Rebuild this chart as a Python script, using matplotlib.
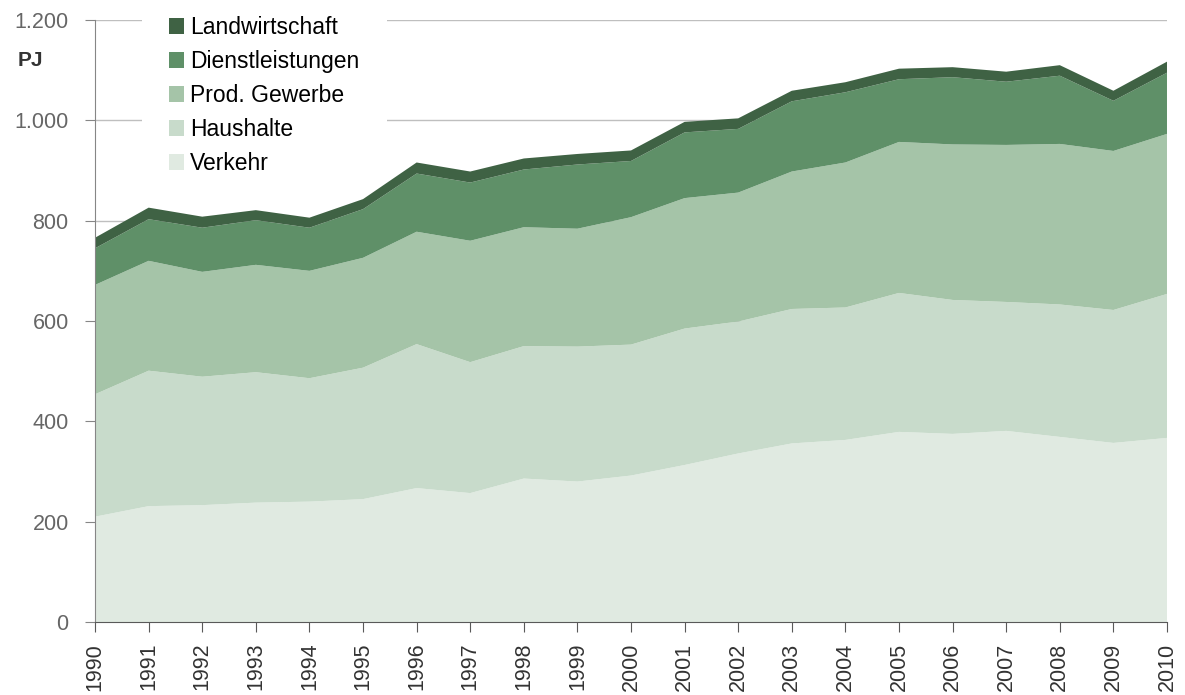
import matplotlib
matplotlib.use('Agg')
import matplotlib.pyplot as plt
from matplotlib.patches import Rectangle
from matplotlib.ticker import FuncFormatter

years = list(range(1990, 2011))
verkehr = [210, 231, 233, 238, 240, 245, 267, 257, 286, 280, 292,
           313, 336, 356, 363, 379, 375, 381, 369, 357, 367]
haushalte = [244, 270, 256, 260, 246, 262, 287, 261, 264, 269, 261,
             272, 263, 268, 264, 277, 267, 257, 264, 265, 287]
prod_gewerbe = [218, 219, 209, 214, 214, 219, 224, 242, 237, 235, 254,
                260, 257, 274, 289, 301, 310, 313, 320, 317, 319]
dienstleistungen = [73, 83, 88, 89, 86, 97, 116, 116, 115, 128, 112,
                    131, 127, 140, 140, 125, 134, 126, 136, 100, 122]
landwirtschaft = [21, 23, 22, 20, 20, 20, 22, 22, 22, 21, 21,
                  21, 21, 21, 20, 21, 20, 20, 21, 20, 22]

labels = ['Verkehr', 'Haushalte', 'Prod. Gewerbe', 'Dienstleistungen', 'Landwirtschaft']
colors = ['#e0eae1', '#c8dbcb', '#a5c4a8', '#5f9068', '#3f6244']

plt.rcParams['font.family'] = ['Liberation Sans', 'DejaVu Sans']

fig = plt.figure(figsize=(11.85, 6.95), dpi=100)
ax = fig.add_axes([0.0802, 0.105, 0.9046, 0.8662])

ax.stackplot(years, verkehr, haushalte, prod_gewerbe, dienstleistungen,
             landwirtschaft, labels=labels, colors=colors, linewidth=0, zorder=2)

ax.set_xlim(1990, 2010)
ax.set_ylim(0, 1200)
ax.set_yticks(range(0, 1201, 200))
ax.set_xticks(years)
ax.set_xticklabels([str(y) for y in years], rotation=90)
ax.yaxis.set_major_formatter(FuncFormatter(lambda v, p: f'{int(v):,}'.replace(',', '.')))

ax.grid(axis='y', color='#bfbfbf', linewidth=1)
ax.set_axisbelow(True)
for s in ['top', 'right']:
    ax.spines[s].set_visible(False)
ax.spines['left'].set_color('#868686')
ax.spines['bottom'].set_color('#595959')
ax.tick_params(axis='y', direction='out', length=7, color='#868686',
               labelsize=15.5, labelcolor='#666666', pad=12)
ax.tick_params(axis='x', direction='out', length=7, color='#595959',
               labelsize=15.5, labelcolor='#333333', pad=8)

fig.text(0.015, 0.905, 'PJ', fontsize=15, fontweight='bold', color='#333333')

# white box behind the legend hides the gridlines there
ax.add_patch(Rectangle((0.044, 0.75), 0.228, 0.27, transform=ax.transAxes,
                       facecolor='white', edgecolor='none', zorder=1, clip_on=False))

handles, labs = ax.get_legend_handles_labels()
leg = ax.legend(handles[::-1], labs[::-1], loc='upper left',
                bbox_to_anchor=(0.0647, 1.014), fontsize=16.5, frameon=False,
                handlelength=0.655, handleheight=0.655, handletextpad=0.27,
                labelspacing=0.48, borderpad=0.2, borderaxespad=0)

fig.savefig('out.png', dpi=100)
